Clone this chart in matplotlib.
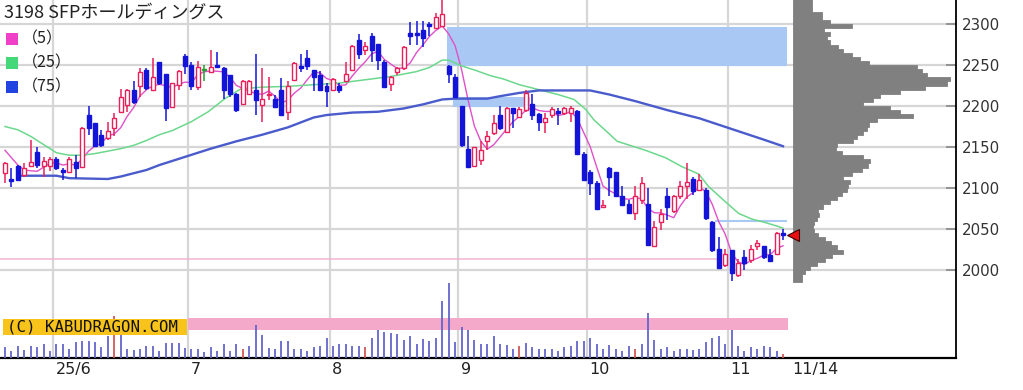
import numpy as np
import pandas as pd
import matplotlib
matplotlib.use('Agg')
import matplotlib.pyplot as plt
from matplotlib.patches import Rectangle

# ---------------- data ----------------
title = "3198 SFPホールディングス"

opens = [2118, 2111, 2127, 2116, 2127, 2144, 2127, 2127, 2136, 2122,
         2120, 2132, 2126, 2189, 2179, 2165, 2161, 2173, 2193, 2201,
         2220, 2224, 2244, 2220, 2254, 2239, 2199, 2226, 2261, 2250,
         2223, 2245, 2242, 2250, 2246, 2238, 2215, 2203, 2215, 2220,
         2201, 2213, 2209, 2220, 2193, 2232, 2249, 2259, 2244, 2238,
         2224, 2219, 2224, 2231, 2244, 2281, 2268, 2285, 2276, 2254,
         2227, 2242, 2246, 2289, 2289, 2293, 2300, 2295, 2298, 2249,
         2236, 2200, 2148, 2127, 2134, 2157, 2167, 2189, 2168, 2197,
         2187, 2195, 2203, 2190, 2181, 2189, 2194, 2191, 2192, 2194,
         2142, 2119, 2106, 2077, 2124, 2119, 2090, 2081, 2069, 2085,
         2081, 2029, 2058, 2090, 2072, 2090, 2102, 2111, 2098, 2098,
         2058, 2026, 2006, 2024, 1994, 2016, 2012, 2029, 2029, 2018,
         2020, 2045]
highs = [2132, 2124, 2128, 2130, 2158, 2150, 2138, 2138, 2138, 2124,
         2138, 2140, 2175, 2200, 2179, 2171, 2181, 2191, 2221, 2221,
         2230, 2246, 2246, 2259, 2254, 2239, 2228, 2244, 2264, 2254,
         2255, 2250, 2268, 2266, 2248, 2238, 2216, 2232, 2232, 2264,
         2246, 2236, 2213, 2234, 2230, 2254, 2264, 2268, 2244, 2243,
         2228, 2234, 2228, 2254, 2274, 2288, 2278, 2289, 2276, 2256,
         2237, 2248, 2273, 2303, 2304, 2304, 2303, 2314, 2329, 2250,
         2239, 2200, 2163, 2150, 2157, 2169, 2189, 2200, 2199, 2198,
         2199, 2219, 2215, 2191, 2191, 2199, 2197, 2199, 2200, 2195,
         2144, 2122, 2108, 2085, 2126, 2120, 2102, 2085, 2102, 2114,
         2100, 2060, 2075, 2100, 2092, 2108, 2130, 2114, 2117, 2100,
         2059.5, 2040, 2026, 2024, 2014, 2025, 2031, 2037, 2029, 2026,
         2046, 2050]
lows = [2106, 2101, 2108, 2114, 2126, 2124, 2114, 2121, 2122, 2110,
        2118, 2112, 2124, 2165, 2150, 2150, 2159, 2163, 2191, 2193,
        2203, 2211, 2220, 2220, 2226, 2182, 2199, 2220, 2239, 2220,
        2220, 2230, 2241, 2246, 2208, 2211, 2193, 2201, 2213, 2189,
        2181, 2207, 2198, 2189, 2183, 2232, 2241, 2244, 2218, 2219,
        2199, 2218, 2216, 2231, 2243, 2257, 2262, 2254, 2244, 2222,
        2218, 2238, 2244, 2274, 2274, 2272, 2285, 2294, 2296, 2228,
        2211, 2150, 2124, 2126, 2128, 2146, 2165, 2171, 2167, 2173,
        2185, 2193, 2183, 2169, 2167, 2185, 2177, 2189, 2181, 2141,
        2108, 2092, 2073, 2076, 2090, 2089, 2079, 2068, 2061, 2081,
        2030, 2028, 2049, 2061, 2069, 2086, 2087, 2092, 2097, 2061,
        2022, 2001, 2004, 1986, 1991, 2000, 2008, 2024, 2014, 2010,
        2020, 2036]
closes = [2131, 2108, 2110, 2124, 2132, 2128, 2133, 2135, 2125, 2119,
          2136, 2124, 2173, 2173, 2151, 2152, 2169, 2185, 2211, 2220,
          2205, 2241, 2222, 2236, 2228, 2198, 2228, 2243, 2249, 2224,
          2248, 2245, 2248, 2247, 2220, 2215, 2195, 2230, 2230, 2207,
          2209, 2215, 2199, 2189, 2224, 2252, 2246, 2249, 2236, 2219,
          2218, 2233, 2220, 2239, 2273, 2264, 2273, 2268, 2256, 2223,
          2236, 2246, 2272, 2285, 2287, 2283, 2297, 2309, 2312, 2239,
          2211, 2152, 2126, 2150, 2146, 2163, 2179, 2173, 2198, 2191,
          2196, 2216, 2189, 2181, 2185, 2196, 2191, 2197, 2198, 2142,
          2110, 2106, 2075, 2079, 2114, 2090, 2079, 2069, 2090, 2106,
          2031, 2053, 2068, 2077, 2090, 2102, 2107, 2096, 2110, 2063,
          2024, 2002, 2020, 1996, 2008, 2008, 2026, 2033, 2016, 2011,
          2045, 2043]

volumes = [32, 22, 37, 25, 37, 32, 42, 22, 42, 42,
           27, 47, 52, 52, 47, 32, 65, 127, 69, 27,
           25, 27, 37, 37, 22, 45, 45, 45, 30, 27,
           27, 17, 32, 22, 42, 22, 42, 27, 37, 100,
           69, 30, 27, 52, 52, 27, 27, 22, 32, 37,
           59, 37, 42, 42, 37, 37, 32, 59, 85, 77,
           75, 72, 55, 65, 42, 57, 52, 60, 172, 225,
           47, 94, 85, 55, 42, 42, 65, 42, 40, 27,
           35, 45, 32, 27, 27, 27, 22, 32, 37, 52,
           52, 60, 42, 27, 40, 27, 22, 35, 27, 42,
           134, 55, 27, 32, 22, 27, 27, 25, 27, 47,
           60, 65, 42, 85, 37, 22, 32, 27, 37, 32,
           22, 12]
vol_red_days = [17, 37, 56, 80, 98, 121]

ma5_head = [2146, 2137, 2128, 2122]
ma25_idx = [0, 2, 4, 6, 8, 10, 12, 14, 16, 18, 20, 22, 24, 26, 29, 31.6, 34.2,
            36.7, 40, 44, 48, 52, 56, 60, 62, 64, 66, 68, 69, 71, 73, 75.5, 77.5,
            80, 83, 86, 88.5, 90.3, 91.6, 93.7, 95.2, 97.6, 99.6, 102.7, 105.3,
            107.9, 109.4, 111.5, 114.1, 116.2, 118.2, 120.3, 121]
ma25_val = [2175, 2171, 2163, 2153, 2143, 2140, 2140, 2142, 2145, 2148, 2152, 2158,
            2165, 2170, 2181, 2193, 2209, 2221, 2223, 2224, 2226, 2228, 2232, 2236,
            2239, 2242, 2247, 2256, 2256, 2249, 2244, 2237, 2233, 2226, 2220, 2214,
            2208, 2196, 2183, 2168, 2157, 2151, 2146, 2137, 2126, 2117, 2102, 2087,
            2069, 2062, 2058, 2053, 2051]
ma75_idx = [2, 8, 10, 16, 18, 20, 22, 24, 28, 32, 36, 40, 44, 48, 50, 54, 58, 62,
            65, 68, 70, 75, 77, 80, 83, 91, 94, 98, 103, 108, 113, 118, 121]
ma75_val = [2115, 2115, 2112, 2111, 2114, 2118, 2122, 2128, 2138, 2148, 2157, 2165,
            2174, 2186, 2189, 2192, 2193, 2197, 2202, 2208, 2209, 2209, 2212, 2216,
            2219, 2219, 2214, 2206, 2195, 2185, 2172, 2159, 2151]

# windows (unfilled gaps): start day, end day, lower price, upper price
gap_start = [69, 70, 110.7]
gap_end = [122, 82, 122]
gap_low = [2250, 2200, 2059.5]
gap_high = [2296, 2211, 2061]

support_price = 2013
support_end = 111
last_price = 2043

month_first_idx = [8, 29, 51, 71, 91, 113]
month_labels = ["25/6", "7", "8", "9", "10", "11"]
last_label = "11/14"

price_ticks = [2000, 2050, 2100, 2150, 2200, 2250, 2300]

prof_bins = list(range(1985, 2330, 5))
prof_vals = [9, 9, 12, 17, 24, 32, 39, 50, 44, 38, 32, 25, 21, 20, 21, 24, 26, 25,
             30, 37, 44, 49, 54, 55, 57, 50, 59, 69, 75, 77, 70, 49, 43, 44, 60, 64,
             70, 74, 76, 84, 120, 107, 97, 70, 80, 87, 107, 132, 154, 157, 134, 129,
             124, 76, 67, 59, 50, 45, 37, 34, 37, 31, 59, 37, 29, 29, 19, 19, 19]

# ---------------- styles ----------------
RED = '#e8205a'
BLUE = '#1414d8'
GREEN = '#22a030'
C_MA5 = '#e050c8'
C_MA25 = '#6cd88c'
C_MA75 = '#4a5ccc'
GRID = '#d6d6d6'
GAPC = '#a9c9f4'

W, H = 1023, 390
fig = plt.figure(figsize=(W / 100, H / 100), dpi=100)
fig.patch.set_facecolor('white')

def fx(x):
    return x / W

def fy(y):
    return 1 - y / H

ax_rect = [0, fy(358), fx(956), 358 / H]
ax = fig.add_axes(ax_rect)
ax.set_zorder(0)
n = len(closes)
idx = np.arange(n)
ax.set_xlim(-0.778, 147.9)
ax.set_ylim(1892.7, 2329.3)

for s in ['top', 'left']:
    ax.spines[s].set_visible(False)
ax.spines['right'].set_linewidth(1.3)
ax.spines['bottom'].set_linewidth(1.6)
ax.set_xticks([])
ax.yaxis.tick_right()
ax.set_yticks(price_ticks)
ax.set_yticklabels([str(p) for p in price_ticks], fontsize=10.8, color='#333333')
ax.tick_params(axis='y', direction='in', length=7, width=1.2, color='#888888', pad=4)

for p in price_ticks:
    ax.axhline(p, color=GRID, lw=1.6, zorder=0.5)
for m in month_first_idx:
    ax.axvline(m - 0.5, color=GRID, lw=1.6, zorder=0.5)

# gaps
for s0, e0, lo, hi in zip(gap_start, gap_end, gap_low, gap_high):
    ax.add_patch(Rectangle((s0 - 0.3, lo), e0 - 0.2 - s0, hi - lo,
                           facecolor=GAPC, edgecolor=GAPC, lw=0.8, zorder=1))

# support line
ax.plot([-1, support_end - 0.2], [support_price, support_price], color='#f2b4d2', lw=1.1, zorder=1.2)

# moving averages
ma5 = pd.Series(closes, dtype=float).rolling(5).mean().to_numpy()
ma5[:len(ma5_head)] = ma5_head
ax.plot(idx, ma5, color=C_MA5, lw=1.0, zorder=2)
ax.plot(ma25_idx, ma25_val, color=C_MA25, lw=1.1, zorder=2)
ax.plot(ma75_idx, ma75_val, color=C_MA75, lw=1.7, zorder=2)

# candles
bw = 0.62
for i, (o, h, l, c) in enumerate(zip(opens, highs, lows, closes)):
    if c > o:
        col, fc = RED, 'white'
    elif c < o:
        col, fc = BLUE, BLUE
    else:
        col, fc = GREEN, GREEN
    ax.vlines(i, l, h, color=col, lw=1.1, zorder=3)
    lo_b, hi_b = min(o, c), max(o, c)
    if hi_b - lo_b < 1.5:
        mid = (hi_b + lo_b) / 2
        lo_b, hi_b = mid - 0.75, mid + 0.75
    ax.add_patch(Rectangle((i - bw / 2, lo_b), bw, hi_b - lo_b, facecolor=fc,
                           edgecolor=col, lw=1.0, zorder=4))

# date labels
xt = ax.get_xaxis_transform()
for m, lab in zip(month_first_idx, month_labels):
    ax.text(m - 0.5 + 0.35, -0.032, lab, transform=xt, ha='left', va='center',
            fontsize=11.5, color='#222222')
ax.text(n + 0.5, -0.032, last_label, transform=xt, ha='left', va='center',
        fontsize=11.5, color='#222222')

# volume axes
vax = fig.add_axes(ax_rect, sharex=ax)
vax.set_zorder(1)
vax.patch.set_visible(False)
vax.axis('off')
vax.set_ylim(0, 1074)
vcols = ['#d05858' if i in vol_red_days else '#6464cc' for i in range(n)]
vax.vlines(idx, 0, volumes, colors=vcols, lw=1.3, zorder=3)

# pink band and copyright box
vax.add_patch(Rectangle((fx(188), fy(330)), fx(788) - fx(188), (330 - 318) / H,
                        transform=fig.transFigure, facecolor='#f4a9ca', edgecolor='none', zorder=1))
vax.add_patch(Rectangle((fx(3), fy(335)), fx(187) - fx(3), (335 - 319) / H,
                        transform=fig.transFigure, facecolor='#f8c31a', edgecolor='none', zorder=5))
vax.text(fx(7), fy(327), "(C) KABUDRAGON.COM", transform=fig.transFigure, ha='left', va='center',
         fontsize=11.3, family='DejaVu Sans Mono', color='#111111', zorder=6)

# volume profile
pax = fig.add_axes([fx(793), fy(358), fx(956) - fx(793), 358 / H])
pax.set_zorder(2)
pax.patch.set_visible(False)
pax.axis('off')
pax.set_ylim(1892.7, 2329.3)
pax.set_xlim(0, 163)
pax.barh(prof_bins, prof_vals, height=5, align='edge', color='#808080',
         edgecolor='#808080', linewidth=0.6)
pax.plot([0], [last_price], marker='<', markersize=8, color='#e81010',
         markeredgecolor='#400000', markeredgewidth=0.8, clip_on=False, zorder=5)

# title & legend
fig.text(fx(4), fy(13), title, ha='left', va='center', fontsize=13,
         family=['Noto Sans CJK JP', 'DejaVu Sans'], color='#222222')
leg = [('（5）', '#f040c8'), ('（25）', '#44d878'), ('（75）', '#2244e0')]
for k, (lab, col) in enumerate(leg):
    yc = 39 + 24 * k
    fig.patches.append(Rectangle((fx(6), fy(yc + 6)), fx(12), 12 / H, transform=fig.transFigure,
                                 facecolor=col, edgecolor='none', figure=fig))
    fig.text(fx(22), fy(yc), lab, ha='left', va='center', fontsize=11.5,
             family=['Noto Sans CJK JP', 'DejaVu Sans'], color='#222222')

fig.savefig('out.png', dpi=100, facecolor='white')
